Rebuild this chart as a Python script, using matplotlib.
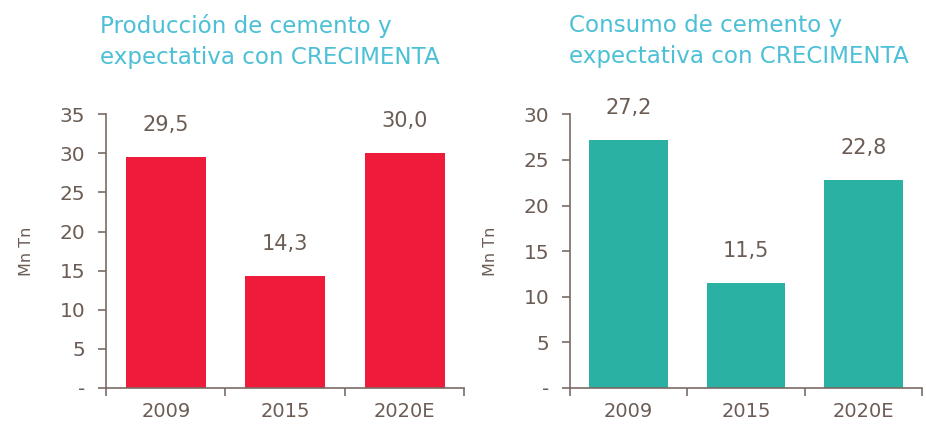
import matplotlib
matplotlib.use('Agg')
import matplotlib.pyplot as plt
import numpy as np

# Data
categories = ['2009', '2015', '2020E']
produccion = [29.5, 14.3, 30.0]
consumo = [27.2, 11.5, 22.8]
prod_labels = ['29,5', '14,3', '30,0']
cons_labels = ['27,2', '11,5', '22,8']

text_col = '#6b5d55'
spine_col = '#7a6a62'
title_col = '#4cc0d6'

fig = plt.figure(figsize=(9.26, 4.29), dpi=100)
ax1 = fig.add_axes([0.1145, 0.0956, 0.387, 0.638])
ax2 = fig.add_axes([0.6156, 0.0956, 0.380, 0.638])


def draw_panel(ax, values, labels, color, ymax, title, title_x):
    x = np.arange(len(categories))
    ax.bar(x, values, width=0.67, color=color)
    ax.set_xlim(-0.5, len(categories) - 0.5)
    ax.set_ylim(0, ymax)
    yt = np.arange(0, ymax + 1, 5)
    ax.set_yticks(yt)
    ax.set_yticklabels(['-'] + [str(v) for v in yt[1:]])
    # category labels, ticks at boundaries
    ax.set_xticks(x)
    ax.set_xticklabels(categories)
    ax.tick_params(axis='x', length=0, pad=10, labelsize=14, labelcolor=text_col)
    ax.set_xticks(np.arange(-0.5, len(categories)), minor=True)
    ax.tick_params(axis='x', which='minor', length=6, color=spine_col, width=1.2)
    ax.tick_params(axis='y', length=6, color=spine_col, width=1.2,
                   labelsize=14.5, labelcolor=text_col, pad=9)
    for s in ['top', 'right']:
        ax.spines[s].set_visible(False)
    for s in ['left', 'bottom']:
        ax.spines[s].set_color(spine_col)
        ax.spines[s].set_linewidth(1.2)
    ax.set_ylabel('Mn Tn', fontsize=11.5, color=text_col, labelpad=18)
    for xi, v, lab in zip(x, values, labels):
        ax.annotate(lab, (xi, v), xytext=(0, 16), textcoords='offset points',
                    ha='center', va='bottom', fontsize=15, color=text_col)
    fig.text(title_x, 0.968, title, ha='left', va='top', fontsize=16.6,
             color=title_col, linespacing=1.45)


draw_panel(ax1, produccion, prod_labels, '#ee1b3b', 35,
           'Producción de cemento y\nexpectativa con CRECIMENTA', 0.108)
draw_panel(ax2, consumo, cons_labels, '#2bb0a4', 30,
           'Consumo de cemento y\nexpectativa con CRECIMENTA', 0.614)

fig.savefig('out.png', dpi=100)
